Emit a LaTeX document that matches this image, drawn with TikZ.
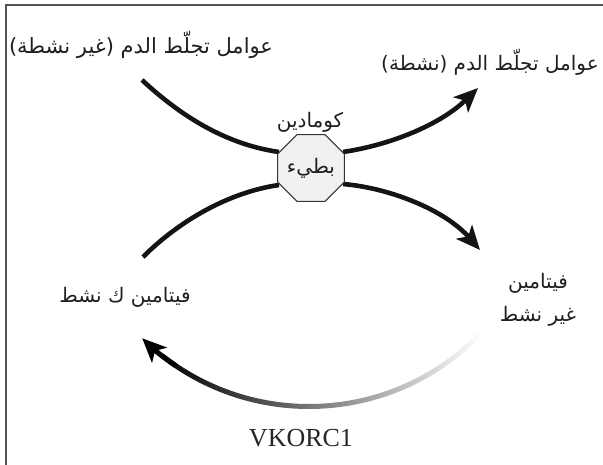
\documentclass[tikz,border=0pt]{standalone}
\usepackage{fontspec}
\setmainfont{Liberation Serif}
\newfontfamily\arabicfont[Script=Arabic]{DejaVu Sans}
\TeXXeTstate=1
\usetikzlibrary{shapes.geometric,arrows.meta}
\definecolor{octfill}{RGB}{240,241,243}
\definecolor{frame}{RGB}{85,85,85}
\tikzset{
  ar/.style={font=\arabicfont\fontsize{20}{30}\selectfont, align=center, text=black!88, inner sep=1pt},
  flow/.style={line width=4.6pt, draw=black!92},
  bigtip/.style={-{Stealth[length=24pt,width=21pt,inset=6pt]}},
  octbox/.style={shape=regular polygon, regular polygon sides=8, minimum size=72.5pt, inner sep=0pt,
     fill=octfill, draw=black!80, line width=1pt}
}
\begin{document}
\begin{tikzpicture}[x=1pt,y=-1pt]
\useasboundingbox (0,0) rectangle (603,465);
\draw[frame, line width=2pt] (6,465) -- (6,5) -- (603,5);

% labels
\node[ar, font=\arabicfont\fontsize{21}{30}\selectfont] (tl) at (141,45) {\beginR عوامل تجلّط الدم (غير نشطة)\endR};
\node[ar] (tr) at (490,62) {\beginR عوامل تجلّط الدم (نشطة)\endR};
\node[ar] (cou) at (310,122) {\beginR كومادين\endR};
\node[ar] (vka) at (125,297) {\beginR فيتامين ك نشط\endR};
\node[ar, font=\arabicfont\fontsize{20}{33}\selectfont] (vki) at (538,300) {\beginR فيتامين\endR\\\beginR غير نشط\endR};
\node[font=\fontsize{26}{30}\selectfont, text=black!85] (vk) at (301,438) {VKORC1};

% curve endpoints
\coordinate (c) at (309,168.5);
\coordinate (a1) at (142,80);
\coordinate (a2) at (478,88);
\coordinate (a3) at (143,257);
\coordinate (a4) at (480,250);
\coordinate (o1) at (279,152);
\coordinate (o2) at (343,152);
\coordinate (o3) at (279,185);
\coordinate (o4) at (343,184);

\draw[flow] (a1) .. controls (185,120) and (230,145) .. (o1);
\draw[flow, bigtip] (o2) .. controls (390,145) and (440,125) .. (a2);
\draw[flow] (a3) .. controls (180,220) and (230,192) .. (o3);
\draw[flow, bigtip] (o4) .. controls (390,188) and (445,210) .. (a4);

\node[octbox] (oct) at (311,168) {};
\node[ar] (slow) at (oct.center) {\beginR بطيء\endR};

% recycling arc with gradient
\shade[shift={(c)}, left color=black, middle color=black!72, right color=white]
  (44:240.5) arc[start angle=44, end angle=128, radius=240.5]
  -- (128:235.5) arc[start angle=128, end angle=44, radius=235.5] -- cycle;
\draw[line width=5pt, black, bigtip, shift={(c)}] (124:238) arc[start angle=124, end angle=134.5, radius=238];
\end{tikzpicture}
\end{document}
